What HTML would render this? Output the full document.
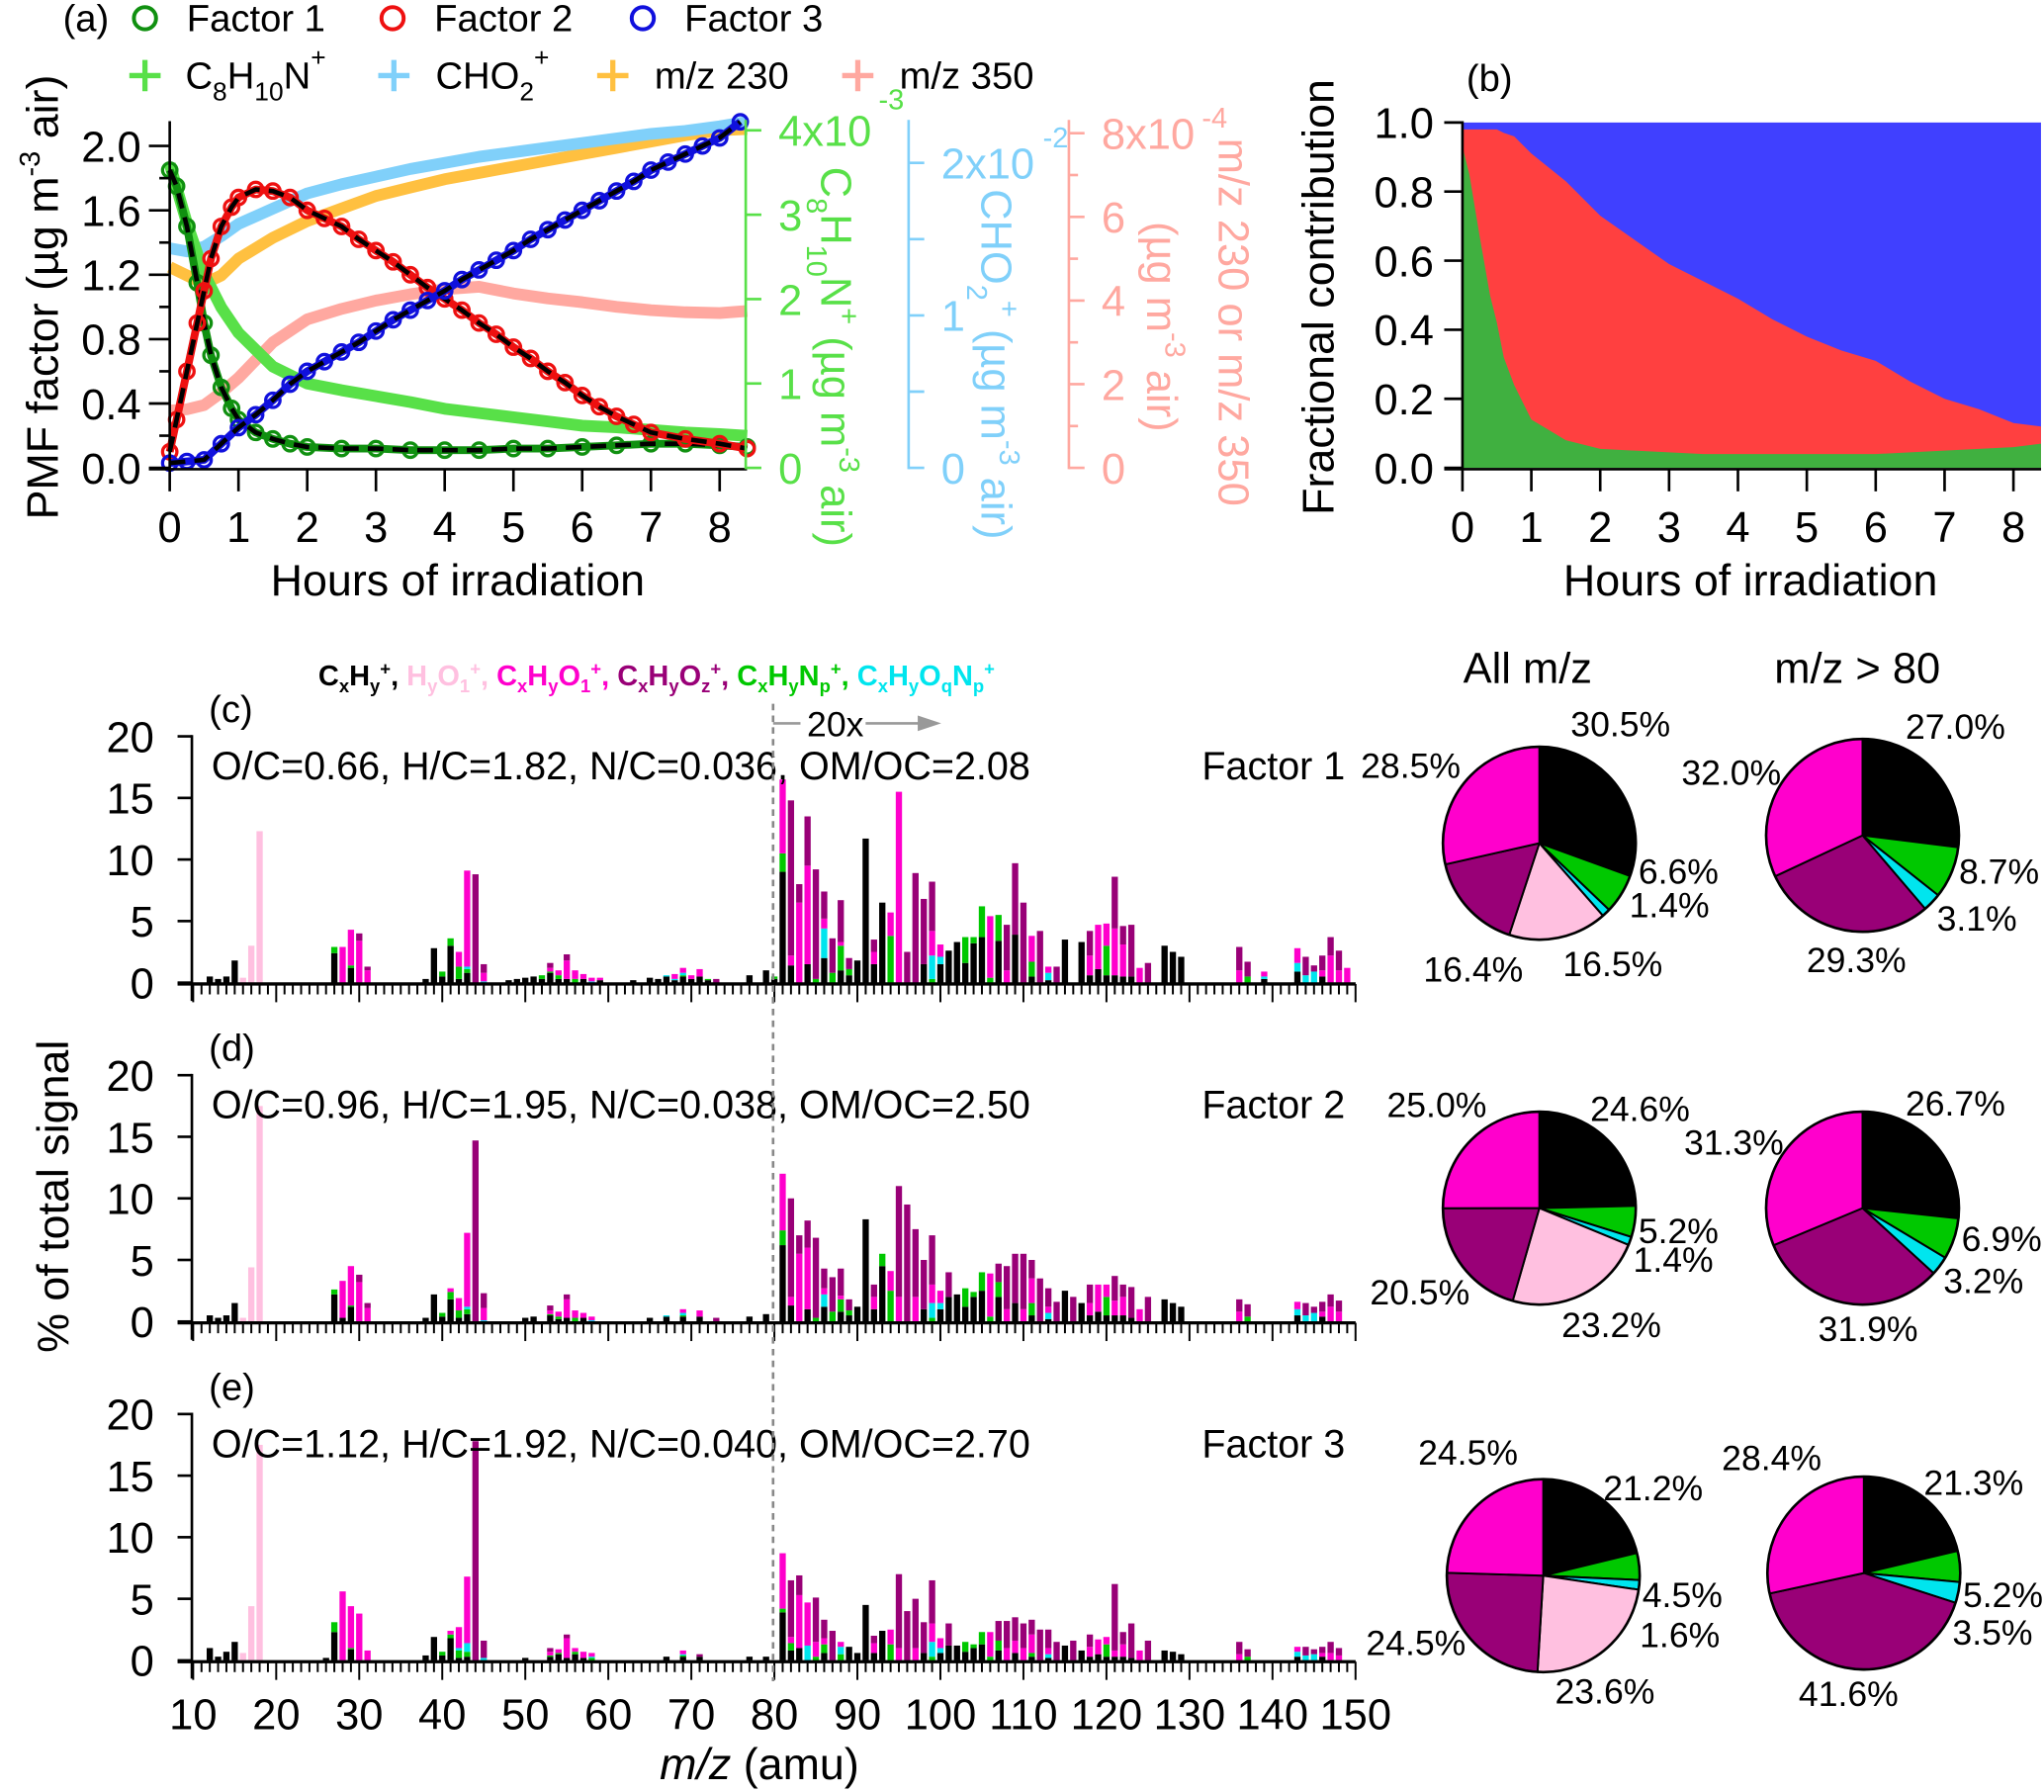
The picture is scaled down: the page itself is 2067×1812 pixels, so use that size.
<!DOCTYPE html>
<html><head><meta charset="utf-8">
<style>
html,body{margin:0;padding:0;background:#fff;}
svg{display:block;font-family:"Liberation Sans",Arial,sans-serif;}
</style></head>
<body>
<svg id="fig" width="2067" height="1812" viewBox="0 0 1568 1375" xmlns="http://www.w3.org/2000/svg"></svg>
<script>
// ---------- Panel (a) data ----------
const tF1 = [0,0.1,0.25,0.4,0.5,0.6,0.75,0.9,1,1.25,1.5,1.75,2,2.5,3,3.5,4,4.5,5,5.5,6,6.5,7,7.5,8,8.4];
const vF1 = [1.85,1.75,1.5,1.15,0.9,0.7,0.5,0.37,0.3,0.22,0.18,0.15,0.13,0.12,0.12,0.11,0.11,0.11,0.12,0.12,0.13,0.14,0.15,0.15,0.14,0.13];
const tF2 = [0,0.1,0.25,0.4,0.5,0.6,0.75,0.9,1,1.25,1.5,1.75,2,2.25,2.5,2.75,3,3.25,3.5,3.75,4,4.25,4.5,4.75,5,5.25,5.5,5.75,6,6.25,6.5,6.75,7,7.5,8,8.4];
const vF2 = [0.1,0.3,0.6,0.9,1.1,1.3,1.5,1.62,1.68,1.73,1.72,1.68,1.6,1.55,1.5,1.42,1.35,1.28,1.2,1.12,1.05,0.98,0.9,0.83,0.75,0.68,0.6,0.53,0.45,0.38,0.32,0.27,0.22,0.18,0.15,0.12];
const tF3 = [0,0.25,0.5,0.75,1,1.25,1.5,1.75,2,2.25,2.5,2.75,3,3.25,3.5,3.75,4,4.25,4.5,4.75,5,5.25,5.5,5.75,6,6.25,6.5,6.75,7,7.25,7.5,7.75,8,8.3];
const vF3 = [0.03,0.04,0.05,0.15,0.25,0.33,0.42,0.52,0.6,0.66,0.72,0.78,0.85,0.92,0.98,1.04,1.1,1.17,1.23,1.29,1.35,1.42,1.48,1.54,1.6,1.66,1.72,1.78,1.85,1.9,1.95,2.0,2.05,2.15];
const tTr = [0,0.25,0.5,0.75,1,1.5,2,2.5,3,3.5,4,4.5,5,5.5,6,6.5,7,7.5,8,8.4];
const vC8 = [3.6,2.9,2.3,1.9,1.6,1.2,1.0,0.92,0.85,0.78,0.7,0.65,0.6,0.55,0.5,0.48,0.45,0.42,0.4,0.38];
const vCHO2 = [1.44,1.42,1.45,1.52,1.6,1.7,1.8,1.86,1.91,1.96,2.0,2.04,2.07,2.1,2.13,2.16,2.19,2.21,2.24,2.27];
const vMZ230 = [4.8,4.6,4.4,4.6,5.0,5.5,5.9,6.2,6.5,6.7,6.9,7.05,7.2,7.35,7.5,7.65,7.8,7.95,8.07,8.1];
const vMZ350 = [1.37,1.4,1.5,1.8,2.15,3.0,3.55,3.8,4.0,4.15,4.27,4.33,4.17,4.05,3.96,3.85,3.77,3.72,3.7,3.75];
const aTicksX = [0,1,2,3,4,5,6,7,8];
const aTicksY = [0,0.4,0.8,1.2,1.6,2.0];
// ---------- Panel (b) data ----------
const tB = [0,0.1,0.25,0.4,0.5,0.6,0.75,1,1.25,1.5,2,2.5,3,3.5,4,4.5,5,5.5,6,6.5,7,7.5,8,8.4];
const fracGreen = [0.93,0.85,0.67,0.5,0.42,0.32,0.24,0.14,0.11,0.08,0.055,0.05,0.045,0.04,0.04,0.04,0.04,0.04,0.04,0.045,0.05,0.055,0.06,0.07];
const fracGreenRed = [0.98,0.98,0.98,0.98,0.98,0.97,0.96,0.91,0.87,0.83,0.73,0.66,0.59,0.54,0.49,0.43,0.38,0.34,0.31,0.25,0.2,0.17,0.13,0.12];
const bTicksY = [0,0.2,0.4,0.6,0.8,1.0];
// ---------- Mass spectra data: [mz, CxHy, HyO1, CxHyO1, CxHyOz, CxHyNp, CxHyOqNp] ----------
const specF1 = [
[12,0.5,0,0,0,0,0],[13,0.3,0,0,0,0,0],[14,0.5,0,0,0,0,0],[15,1.8,0,0,0,0,0],[16,0,0.4,0,0,0,0],[17,0,3.0,0,0,0,0],[18,0,12.3,0,0,0,0],
[27,2.4,0,0,0,0.5,0],[28,0,0,2.9,0,0,0],[29,1.2,0,2.9,0,0.2,0],[30,0,0,3.4,0.6,0,0],[31,0,0,1.0,0.3,0,0],
[38,0.3,0,0,0,0,0],[39,2.8,0,0,0,0,0],[40,0.5,0,0,0,0.4,0],[41,3.0,0,0,0,0.6,0],[42,0.3,0,1.2,0,1.0,0],[43,0.8,0,7.8,0,0.3,0.2],[44,0,0,0,8.8,0,0],[45,0,0,0.7,0.7,0,0.1],
[48,0.2,0,0,0,0,0],[49,0.3,0,0,0,0,0],[50,0.4,0,0,0,0,0],[51,0.5,0,0,0,0,0],[52,0.3,0,0,0,0.3,0],[53,0.8,0,0.3,0.4,0.1,0],[54,0.3,0,0.4,0,0.3,0],[55,0.3,0,1.5,0.5,0,0],[56,0,0,0.7,0,0.3,0],[57,0.3,0,0.4,0,0,0],[58,0,0,0.3,0,0,0.1],[59,0.2,0,0.2,0,0,0],
[63,0.2,0,0,0,0,0],[65,0.4,0,0,0,0,0],[66,0.3,0,0,0,0,0],[67,0.5,0,0,0,0,0.1],[68,0.2,0,0.4,0,0,0.1],[69,0.5,0,0.4,0,0.1,0.2],[70,0.3,0,0.3,0,0,0],[71,0.5,0,0.6,0,0,0],[72,0.2,0,0,0,0.1,0],[73,0,0,0,0.3,0,0],
[77,0.6,0,0,0,0,0],[79,1.0,0,0,0,0,0],[80,0.3,0,0,0,0.2,0],
[81,9.0,0,6.0,0,1.5,0],[82,1.4,0,0.8,12.6,0,0],[83,0,0,6.5,1.5,0,0],[84,1.5,0,8.0,4.0,0,0],[85,0,0,0,8.9,0.3,0],[86,2.0,0,0.8,2.2,0,2.4],[87,0,0,0,2.8,0.8,0],[88,1.0,0,0.3,3.4,2.0,0],
[89,0.6,0,0,0.9,0.5,0],[90,1.8,0,0,0,0,0],[91,11.7,0,0,0,0,0],[92,1.5,0,1.0,1.0,0,0],[93,6.5,0,0,0,0,0],[94,0,0,1.9,0,3.8,0],[95,0,0,15.5,0,0,0],[96,0,0,0,2.5,0,0],[97,0,0,0,8.9,0,0],[98,1.5,0,0,5.3,0,0],
[99,0,0,2.0,4.0,0.3,1.9],[100,1.5,0,1.0,0,0,0.6],[101,2.6,0,0,0,0,0],[102,3.3,0,0,0,0,0],[103,1.6,0,0,0,2.1,0],[104,3.2,0,0,0,0.5,0],[105,3.7,0,0,0,2.5,0],[106,0,0,5.0,0,0.4,0],
[107,3.4,0,0,0,2.1,0],[108,0,0,1.0,3.7,0,0],[109,3.9,0,0,5.8,0,0],[110,0,0,0,6.5,0,0],[111,0.5,0,2.1,0,1.2,0],[112,0,0,0,4.2,0,0],[113,0.2,0,0.5,0,0,0.6],[114,0,0,0,1.3,0,0],
[115,3.5,0,0,0,0,0],[117,3.3,0,0,0,0,0],[118,0.6,0,1.6,2.0,0,0],[119,1.1,0,3.6,0,0,0],[120,0.6,0,1.8,0,2.4,0],[121,0.6,0,3.8,4.2,0,0],[122,0.5,0,2.6,1.5,0,0],[123,0.5,0,0,4.2,0,0],[124,0,0,1.2,0,0,0],[125,0,0,0,1.6,0,0],
[127,3.0,0,0,0,0,0],[128,2.5,0,0,0,0,0],[129,2.1,0,0,0,0,0],[136,0,0,1.0,1.9,0,0],[137,0,0,0,1.2,0.5,0],[139,0.3,0,0.4,0,0,0.2],
[143,0.9,0,1.2,0,0,0.7],[144,0,0,0,1.5,0,0.6],[145,0,0,0,0.5,0,0.9],[146,0.5,0,0.5,1.2,0,0],[147,0,0,2.2,1.5,0,0],[148,0,0,1.0,1.6,0,0],[149,0,0,1.2,0,0,0]
];
const specF2 = [
[12,0.5,0,0,0,0,0],[13,0.3,0,0,0,0,0],[14,0.5,0,0,0,0,0],[15,1.5,0,0,0,0,0],[16,0,0.3,0,0,0,0],[17,0,4.4,0,0,0,0],[18,0,17.5,0,0,0,0],
[27,2.2,0,0,0,0.4,0],[28,0.3,0,3.0,0,0,0],[29,1.2,0,3.2,0,0.1,0],[30,0,0,3.2,0.6,0,0],[31,0,0,1.1,0.4,0,0],
[38,0.3,0,0,0,0,0],[39,2.2,0,0,0,0,0],[40,0.4,0,0,0,0.3,0],[41,1.8,0,0.3,0,0.6,0],[42,0.3,0,1.0,0,0.6,0],[43,0.6,0,6.0,0,0.4,0.2],[44,0,0,0,14.7,0,0],[45,0,0,1.0,1.2,0,0.1],
[50,0.3,0,0,0,0,0],[51,0.4,0,0,0,0,0],[53,0.5,0,0.3,0.4,0.1,0],[54,0.2,0,0.4,0,0.2,0],[55,0.3,0,1.5,0.4,0,0],[56,0,0,0.6,0,0.3,0],[57,0.3,0,0.4,0,0,0],[58,0,0,0.3,0,0,0.1],
[65,0.3,0,0,0,0,0],[67,0.4,0,0,0,0,0.1],[69,0.4,0,0.3,0,0.1,0.2],[71,0.4,0,0.5,0,0,0],[73,0,0,0,0.3,0,0],[77,0.4,0,0,0,0,0],[79,0.6,0,0,0,0,0],
[81,6.2,0,4.6,0,1.2,0],[82,1.3,0,0.7,8.0,0,0],[83,0,0,5.5,1.5,0,0],[84,1.0,0,5.0,2.2,0,0],[85,0,0,0,6.5,0.3,0],[86,1.2,0,0.5,1.6,0,1.0],[87,0,0,0,2.8,0.8,0],[88,0.8,0,0.3,2.2,1.0,0],
[89,0.5,0,0,0.9,0.4,0],[90,1.2,0,0,0,0,0],[91,8.3,0,0,0,0,0],[92,1.0,0,1.0,1.0,0,0],[93,4.5,0,0,0,1.0,0],[94,0,0,1.6,0,2.5,0],[95,0,0,2.0,9.0,0,0],[96,0,0,0,9.5,0,0],[97,0,0,2.0,5.5,0,0],[98,1.0,0,0,4.0,0,0],
[99,0,0,1.5,4.0,0.3,1.2],[100,1.0,0,1.0,0,0,0.5],[101,2.0,0,0,2.0,0,0],[102,2.2,0,0,0,0,0],[103,1.2,0,0,0,1.5,0],[104,2.0,0,0,0,0.4,0],[105,2.5,0,0,0,1.5,0],[106,0,0,3.5,0,0.4,0],
[107,2.0,0,0,1.5,1.2,0],[108,0,0,1.0,3.5,0,0],[109,1.5,0,0,4.0,0,0],[110,0,0,1.0,4.5,0,0],[111,0.5,0,2.0,1.5,1.0,0],[112,0,0,0,3.5,0,0],[113,0.2,0,0.5,1.5,0,0.5],[114,0,0,0,1.6,0,0],
[115,2.5,0,0,0,0,0],[116,0,0,0,2.0,0,0],[117,1.5,0,0,0,0,0],[118,0.5,0,1.0,1.5,0,0],[119,0.8,0,2.2,0,0,0],[120,0.5,0,1.0,0,1.5,0],[121,0.5,0,1.2,2.0,0,0],[122,0.5,0,1.5,1.0,0,0],[123,0.3,0,0,2.5,0,0],[124,0,0,1.0,0,0,0],[125,0,0,0,2.0,0,0],
[127,1.8,0,0,0,0,0],[128,1.5,0,0,0,0,0],[129,1.2,0,0,0,0,0],[136,0,0,0.8,1.0,0,0],[137,0,0,0,1.0,0.4,0],
[143,0.5,0,0.6,0,0,0.5],[144,0,0,0,1.0,0,0.5],[145,0,0,0,0.5,0,0.7],[146,0.4,0,0.4,0.8,0,0],[147,0,0,1.2,1.0,0,0],[148,0,0,0.8,0.9,0,0]
];
const specF3 = [
[12,1.0,0,0,0,0,0],[13,0.3,0,0,0,0,0],[14,0.7,0,0,0,0,0],[15,1.5,0,0,0,0,0],[16,0,0.6,0,0,0,0],[17,0,4.4,0,0,0,0],[18,0,17.5,0,0,0,0],
[26,0.2,0,0,0,0,0],[27,2.3,0,0,0,0.8,0],[28,0,0,5.6,0,0,0],[29,0.9,0,3.4,0,0.1,0],[30,0,0,3.8,0,0,0],[31,0,0,0.8,0,0,0],
[38,0.4,0,0,0,0,0],[39,1.9,0,0,0,0,0],[40,0.4,0,0,0,0.3,0],[41,1.8,0,0.3,0,0.3,0],[42,0.2,0,1.7,0,0.6,0.2],[43,0.3,0,5.4,0,0.4,0.7],[44,0,0,0,17.8,0,0],[45,0,0,0,1.4,0,0.2],
[50,0.2,0,0,0,0,0],[53,0.3,0,0.3,0.3,0.1,0],[54,0.5,0,0.3,0,0.1,0],[55,0.2,0,1.6,0.3,0,0],[56,0.5,0,0.3,0,0.2,0],[57,0.2,0,0.5,0,0,0],[58,0,0,0.3,0,0.2,0.1],
[67,0.3,0,0,0,0,0],[69,0.3,0,0.3,0,0.1,0.1],[71,0.3,0,0,0.2,0,0],[77,0.3,0,0,0,0,0],[79,0.3,0,0,0,0,0],
[81,3.9,0,4.5,0,0.3,0],[82,0.8,0,0.5,4.6,0.6,0],[83,1.0,0,4.3,1.6,0,0],[84,0,0,3.5,0,0,1.2],[85,0,0,1.2,3.6,0.3,0],[86,0.6,0,0.5,1.5,0.7,0],[87,0,0,0,2.4,0,0],[88,0,0,0.4,0,0.5,0.6],
[89,1.1,0,0,0,0,0],[90,0.6,0,0,0,0,0],[91,4.5,0,0,0,0,0],[92,0.6,0,0.8,0.6,0,0],[93,2.4,0,0,0,0,0],[94,0,0,1.2,0,1.3,0],[95,0,0,1.0,6.0,0,0],[96,0,0,0,4.0,0,0],[97,0,0,1.0,4.0,0,0],[98,0.6,0,0,2.5,0,0],
[99,0,0,1.5,3.5,0.3,1.2],[100,0.6,0,0.8,0,0,0.4],[101,1.2,0,0,1.8,0,0],[102,1.2,0,0,0,0,0],[103,0.7,0,0,0,0.8,0],[104,1.0,0,0,0,0.3,0],[105,1.3,0,0,0,1.0,0],[106,0,0,2.0,0,0.3,0],
[107,0.8,0,0,1.6,0.8,0],[108,0,0,1.0,2.2,0,0],[109,0.6,0,1.0,1.9,0,0],[110,0,0,1.0,2.0,0,0],[111,0.3,0,1.5,1.2,0.3,0],[112,0,0,0,2.5,0,0],[113,0.2,0,0.5,1.5,0,0.3],[114,0,0,0,1.5,0,0],
[115,1.2,0,0,0,0,0],[116,0,0,0,1.6,0,0],[117,0.8,0,0,0,0,0],[118,0.3,0,0.8,1.0,0,0],[119,0.5,0,1.2,0,0,0],[120,0.3,0,0.6,0,1.0,0],[121,0.3,0,0.5,5.4,0,0],[122,0.3,0,1.0,1.0,0,0],[123,0.2,0,0,2.8,0,0],[124,0,0,0.8,0,0,0],[125,0,0,0,1.6,0,0],
[127,0.8,0,0,0,0,0],[128,0.7,0,0,0,0,0],[129,0.5,0,0,0,0,0],[136,0,0,0.5,1.0,0,0],[137,0,0,0,0.6,0.3,0],
[143,0.3,0,0.4,0,0,0.4],[144,0,0,0,0.7,0,0.4],[145,0,0,0,0.4,0,0.5],[146,0.3,0,0.3,0.5,0,0],[147,0,0,0.6,0.9,0,0],[148,0,0,0.4,0.6,0,0]
];
const specTicksX = [10,20,30,40,50,60,70,80,90,100,110,120,130,140,150];
const specTicksY = [0,5,10,15,20];
// ---------- Pie data: [CxHy, CxHyNp, CxHyOqNp, HyO1, CxHyOz, CxHyO1] ----------
const pieF1All = [30.5,6.6,1.4,16.5,16.4,28.5];
const pieF1Hi = [27.0,8.7,3.1,0,29.3,32.0];
const pieF2All = [24.6,5.2,1.4,23.2,20.5,25.0];
const pieF2Hi = [26.7,6.9,3.2,0,31.9,31.3];
const pieF3All = [21.2,4.5,1.6,23.6,24.5,24.5];
const pieF3Hi = [21.3,5.2,3.5,0,41.6,28.4];

const NS = "http://www.w3.org/2000/svg";
const svg = document.getElementById('fig');
function mk(tag, attrs, parent){ const e=document.createElementNS(NS,tag); for(const k in attrs) e.setAttribute(k,attrs[k]); (parent||svg).appendChild(e); return e; }
function txt(x,y,s,size,opts,parent){ const e=mk('text',Object.assign({x:x,y:y,'font-size':size,fill:'#000'},opts||{}),parent); e.textContent=s; return e; }

const SPEC_COL = ['#000000','#ffc0e0','#ff00cc','#990077','#00c800','#00e5ee'];
const SPEC_ORDER = [0,4,5,1,2,3];
const PIE_COL = ['#000000','#00c800','#00e5ee','#ffc0e0','#990077','#ff00cc'];
const TK = 33, TT = 34;

// ================= Panel (a) =================
const xa = h => 130 + h*52.75;
const ya = v => 359 - v*123.5;
const yg = v => 359 - v*64.75;
const yb = v => 359 - v*117;
const yp = v => 359 - v*32.1;
const gA = mk('g',{});  
function polyline(ts, vs, fx, fy, color, w, dash, parent){
  const pts = ts.map((t,i)=>fx(t)+','+fy(vs[i])).join(' ');
  const p = mk('polyline',{points:pts,fill:'none',stroke:color,'stroke-width':w,'stroke-linejoin':'round'},parent);
  if(dash) p.setAttribute('stroke-dasharray',dash);
  return p;
}
let l;
l = polyline(tTr,vMZ350,xa,yp,'#ffa8a0',9,null,gA);
 
l = polyline(tTr,vMZ230,xa,yp,'#ffc040',9,null,gA);
 
l = polyline(tTr,vCHO2,xa,yb,'#80d0fa',9,null,gA);
 
l = polyline(tTr,vC8,xa,yg,'#58e048',9,null,gA);
 
[[tF1,vF1,'#109010','factor1'],[tF2,vF2,'#ee1010','factor2'],[tF3,vF3,'#1010dd','factor3']].forEach(s=>{
  const ln = polyline(s[0],s[1],xa,ya,s[2],6,null,gA);
   
  s[0].forEach((t,i)=>{ const c=mk('circle',{cx:xa(t),cy:ya(s[1][i]),r:5.5,fill:'none',stroke:s[2],'stroke-width':2.5},gA);
      });
  const fit = polyline(s[0],s[1],xa,ya,'#000',3.5,'12,7',gA);
   
});
mk('line',{x1:130,y1:93,x2:130,y2:360,stroke:'#000','stroke-width':2},gA);
mk('line',{x1:114,y1:360,x2:573,y2:360,stroke:'#000','stroke-width':2},gA);
aTicksY.forEach(v=>{ mk('line',{x1:114,y1:ya(v),x2:130,y2:ya(v),stroke:'#000','stroke-width':2},gA);
  const t=txt(108,ya(v)+12,v.toFixed(1),TK,{'text-anchor':'end'},gA);   });
for(let v=0.2; v<2.1; v+=0.4) mk('line',{x1:122,y1:ya(v),x2:130,y2:ya(v),stroke:'#000','stroke-width':2},gA);
aTicksX.forEach(h=>{ mk('line',{x1:xa(h),y1:360,x2:xa(h),y2:377,stroke:'#000','stroke-width':2},gA);
  const t=txt(xa(h),416,String(h),TK,{'text-anchor':'middle'},gA);   });
let t = txt(351,457,'Hours of irradiation',TT,{'text-anchor':'middle'},gA);
 
t = mk('text',{transform:'translate(44,228) rotate(-90)','font-size':TT,'text-anchor':'middle'},gA);
t.innerHTML='PMF factor (µg m<tspan dy="-14" font-size="22">-3</tspan><tspan dy="14"> air)</tspan>';
 
// green axis
mk('line',{x1:572,y1:92,x2:572,y2:360,stroke:'#58e048','stroke-width':2},gA);
[0,1,2,3,4].forEach(v=>{ mk('line',{x1:572,y1:yg(v),x2:584,y2:yg(v),stroke:'#58e048','stroke-width':2},gA);
  const tt=txt(597,yg(v)+12,v===4?'4x10':String(v),TK,{fill:'#58e048'},gA);   });
txt(674,84,'-3',22,{fill:'#58e048'},gA);
t = mk('text',{transform:'translate(630,128) rotate(90)','font-size':TK,fill:'#58e048'},gA);
t.innerHTML='C<tspan dy="11" font-size="22">8</tspan><tspan dy="-11">H</tspan><tspan dy="11" font-size="22">10</tspan><tspan dy="-11">N</tspan><tspan dy="-14" font-size="22">+</tspan><tspan dy="14">  (µg m</tspan><tspan dy="-14" font-size="22">-3</tspan><tspan dy="14"> air)</tspan>';
 
// blue axis
mk('line',{x1:697,y1:92,x2:697,y2:360,stroke:'#80d0fa','stroke-width':2},gA);
[0,0.5,1,1.5,2].forEach(v=>{ mk('line',{x1:697,y1:yb(v),x2:709,y2:yb(v),stroke:'#80d0fa','stroke-width':2},gA); });
[[0,'0'],[1,'1'],[2,'2x10']].forEach(p=>{ const tt=txt(722,yb(p[0])+12,p[1],TK,{fill:'#80d0fa'},gA);   });
txt(800,113,'-2',22,{fill:'#80d0fa'},gA);
t = mk('text',{transform:'translate(753,145) rotate(90)','font-size':TK,fill:'#80d0fa'},gA);
t.innerHTML='CHO<tspan dy="11" font-size="22">2</tspan><tspan dy="-25" font-size="22">+</tspan><tspan dy="14">  (µg m</tspan><tspan dy="-14" font-size="22">-3</tspan><tspan dy="14"> air)</tspan>';
 
// pink axis
mk('line',{x1:820,y1:92,x2:820,y2:360,stroke:'#ffa8a0','stroke-width':2},gA);
[0,2,4,6,8].forEach(v=>{ mk('line',{x1:820,y1:yp(v),x2:832,y2:yp(v),stroke:'#ffa8a0','stroke-width':2},gA);
  const tt=txt(845,yp(v)+12,v===8?'8x10':String(v),TK,{fill:'#ffa8a0'},gA);   });
for(let v=1; v<8; v+=2) mk('line',{x1:820,y1:yp(v),x2:827,y2:yp(v),stroke:'#ffa8a0','stroke-width':2},gA);
txt(922,98,'-4',22,{fill:'#ffa8a0'},gA);
t = mk('text',{transform:'translate(880,170) rotate(90)','font-size':TK,fill:'#ffa8a0'},gA);
t.innerHTML='(µg m<tspan dy="-14" font-size="22">-3</tspan><tspan dy="14"> air)</tspan>';
 
t = txt(0,0,'m/z 230 or m/z 350',TK,{transform:'translate(935,106) rotate(90)',fill:'#ffa8a0'},gA);
 
// legend
t = txt(48,24,'(a)',29,{},gA);  
[['Factor 1','#109010',111],['Factor 2','#ee1010',301],['Factor 3','#1010dd',493]].forEach(e=>{
  const c=mk('circle',{cx:e[2],cy:14,r:8.5,fill:'none',stroke:e[1],'stroke-width':3},gA);  
  const tt=txt(e[2]+32,24,e[0],29,{},gA);   });
[['#58e048',111],['#80d0fa',302],['#ffc040',470],['#ffa8a0',658]].forEach(e=>{
  mk('line',{x1:e[1]-12,y1:58,x2:e[1]+12,y2:58,stroke:e[0],'stroke-width':4},gA);
  const m=mk('line',{x1:e[1],y1:46,x2:e[1],y2:70,stroke:e[0],'stroke-width':4},gA);   });
t = mk('text',{x:142,y:68,'font-size':29},gA); t.innerHTML='C<tspan dy="9" font-size="20">8</tspan><tspan dy="-9">H</tspan><tspan dy="9" font-size="20">10</tspan><tspan dy="-9">N</tspan><tspan dy="-17" font-size="20">+</tspan>';
 
t = mk('text',{x:334,y:68,'font-size':29},gA); t.innerHTML='CHO<tspan dy="9" font-size="20">2</tspan><tspan dy="-26" font-size="20">+</tspan>';
 
t = txt(502,68,'m/z 230',29,{},gA);  
t = txt(690,68,'m/z 350',29,{},gA);  

// ================= Panel (b) =================
const xb = h => 1122 + h*52.85;
const yB = v => 359 - v*265;
const gB = mk('g',{});  
let r = mk('rect',{x:xb(0),y:yB(1),width:xb(8.4)-xb(0),height:yB(0)-yB(1),fill:'#4040ff'},gB);
 
function areaPath(ts, vs){ let d='M'+xb(ts[0])+','+yB(0); ts.forEach((tt,i)=>{ d+=' L'+xb(tt)+','+yB(vs[i]); }); d+=' L'+xb(ts[ts.length-1])+','+yB(0)+' Z'; return d; }
r = mk('path',{d:areaPath(tB,fracGreenRed),fill:'#ff4040'},gB);
 
r = mk('path',{d:areaPath(tB,fracGreen),fill:'#40b040'},gB);
 
mk('line',{x1:1122,y1:93,x2:1122,y2:360,stroke:'#000','stroke-width':2},gB);
mk('line',{x1:1108,y1:360,x2:1566,y2:360,stroke:'#000','stroke-width':2},gB);
bTicksY.forEach(v=>{ mk('line',{x1:1108,y1:yB(v),x2:1122,y2:yB(v),stroke:'#000','stroke-width':2},gB);
  const tt=txt(1100,yB(v)+12,v.toFixed(1),TK,{'text-anchor':'end'},gB);   });
aTicksX.forEach(h=>{ mk('line',{x1:xb(h),y1:360,x2:xb(h),y2:377,stroke:'#000','stroke-width':2},gB);
  const tt=txt(xb(h),416,String(h),TK,{'text-anchor':'middle'},gB);   });
t = txt(1343,457,'Hours of irradiation',TT,{'text-anchor':'middle'},gB);  
t = txt(0,0,'Fractional contribution',TT,{transform:'translate(1023,228) rotate(-90)','text-anchor':'middle'},gB);  
t = txt(1125,70,'(b)',29,{},gB);  

// ================= Mass spectra =================
const xm = mz => 148 + (mz-10)*6.371;
function drawSpec(data, base, label, ratios, factor, showX, key){
  const g = mk('g',{});  
  const ys = v => base - v*9.45;
  data.forEach(row=>{
    let acc=0;
    SPEC_ORDER.forEach(ci=>{ const v=row[ci+1]; if(v>0){
      const b=mk('rect',{x:xm(row[0])-2.4,y:ys(acc+v),width:4.8,height:ys(acc)-ys(acc+v),fill:SPEC_COL[ci]},g);
       
      acc+=v; } });
  });
  mk('line',{x1:136,y1:base+1,x2:1040,y2:base+1,stroke:'#000','stroke-width':2.5},g);
  mk('line',{x1:147,y1:base-190,x2:147,y2:base+14,stroke:'#000','stroke-width':2},g);
  specTicksY.forEach(v=>{ mk('line',{x1:136,y1:ys(v),x2:147,y2:ys(v),stroke:'#000','stroke-width':2},g);
    const tt=txt(118,ys(v)+12,String(v),TK,{'text-anchor':'end'},g);   });
  for(let m=10;m<=150;m++){ const len = m%10===0?14:8;
    mk('line',{x1:xm(m),y1:base+1,x2:xm(m),y2:base+1+len,stroke:'#000','stroke-width':1.5},g); }
  if(showX) specTicksX.forEach(m=>{ const tt=txt(xm(m),1327,String(m),TK,{'text-anchor':'middle'},g);   });
  let tt=txt(160,base-200,label,29,{},g);  
  tt=txt(162,base-156,ratios,30,{},g);  
  tt=txt(922,base-156,factor,30,{},g);  
}
drawSpec(specF1,754,'(c)','O/C=0.66, H/C=1.82, N/C=0.036, OM/OC=2.08','Factor 1',false,'c');
drawSpec(specF2,1014,'(d)','O/C=0.96, H/C=1.95, N/C=0.038, OM/OC=2.50','Factor 2',false,'d');
drawSpec(specF3,1274,'(e)','O/C=1.12, H/C=1.92, N/C=0.040, OM/OC=2.70','Factor 3',true,'e');
let dl = mk('line',{x1:593,y1:540,x2:593,y2:1290,stroke:'#888','stroke-width':2,'stroke-dasharray':'5,4'});
 
mk('line',{x1:593,y1:555,x2:710,y2:555,stroke:'#999','stroke-width':2});
let ar = mk('path',{d:'M722,555 L704,549 L704,561 Z',fill:'#999'});
 
mk('rect',{x:614,y:540,width:50,height:28,fill:'#fff'});
t = txt(619,565,'20x',27,{});  
t = txt(0,0,'% of total signal',TT,{transform:'translate(52,918) rotate(-90)','text-anchor':'middle'});  
t = mk('text',{x:506,y:1365,'font-size':TT}); t.innerHTML='<tspan font-style="italic">m/z</tspan>  (amu)';
 
// ion legend
t = mk('text',{x:244,y:526,'font-size':22,'font-weight':'bold'});
t.innerHTML='<tspan fill="#000">C<tspan font-size="14" dy="5">x</tspan><tspan dy="-5">H</tspan><tspan font-size="14" dy="5">y</tspan><tspan font-size="14" dy="-13">+</tspan><tspan dy="8">, </tspan></tspan>'+
 '<tspan fill="#ffc0e0">H<tspan font-size="14" dy="5">y</tspan><tspan dy="-5">O</tspan><tspan font-size="14" dy="5">1</tspan><tspan font-size="14" dy="-13">+</tspan><tspan dy="8">, </tspan></tspan>'+
 '<tspan fill="#ff00cc">C<tspan font-size="14" dy="5">x</tspan><tspan dy="-5">H</tspan><tspan font-size="14" dy="5">y</tspan><tspan dy="-5">O</tspan><tspan font-size="14" dy="5">1</tspan><tspan font-size="14" dy="-13">+</tspan><tspan dy="8">, </tspan></tspan>'+
 '<tspan fill="#990077">C<tspan font-size="14" dy="5">x</tspan><tspan dy="-5">H</tspan><tspan font-size="14" dy="5">y</tspan><tspan dy="-5">O</tspan><tspan font-size="14" dy="5">z</tspan><tspan font-size="14" dy="-13">+</tspan><tspan dy="8">, </tspan></tspan>'+
 '<tspan fill="#00c800">C<tspan font-size="14" dy="5">x</tspan><tspan dy="-5">H</tspan><tspan font-size="14" dy="5">y</tspan><tspan dy="-5">N</tspan><tspan font-size="14" dy="5">p</tspan><tspan font-size="14" dy="-13">+</tspan><tspan dy="8">, </tspan></tspan>'+
 '<tspan fill="#00e5ee">C<tspan font-size="14" dy="5">x</tspan><tspan dy="-5">H</tspan><tspan font-size="14" dy="5">y</tspan><tspan dy="-5">O</tspan><tspan font-size="14" dy="5">q</tspan><tspan dy="-5">N</tspan><tspan font-size="14" dy="5">p</tspan><tspan font-size="14" dy="-13">+</tspan></tspan>';
 

// ================= Pies =================
function drawPie(vals, cx, cy, rad, name){
  const g = mk('g',{});  
  const tot = vals.reduce((a,b)=>a+b,0);
  let a0 = -Math.PI/2;
  vals.forEach((v,i)=>{ if(v<=0) return;
    const a1 = a0 + v/tot*2*Math.PI;
    const large = (a1-a0)>Math.PI?1:0;
    const d = 'M'+cx+','+cy+' L'+(cx+rad*Math.cos(a0))+','+(cy+rad*Math.sin(a0))+' A'+rad+','+rad+' 0 '+large+' 1 '+(cx+rad*Math.cos(a1))+','+(cy+rad*Math.sin(a1))+' Z';
    const s = mk('path',{d:d,fill:PIE_COL[i],stroke:'#000','stroke-width':1.5},g);
     
    a0 = a1; });
  mk('circle',{cx:cx,cy:cy,r:rad,fill:'none',stroke:'#000','stroke-width':2},g);
}
drawPie(pieF1All,1181,647,74,'pie-f1-all');
drawPie(pieF1Hi,1429,641,74,'pie-f1-hi');
drawPie(pieF2All,1181,927,74,'pie-f2-all');
drawPie(pieF2Hi,1429,927,74,'pie-f2-hi');
drawPie(pieF3All,1184,1209,74,'pie-f3-all');
drawPie(pieF3Hi,1430,1207,74,'pie-f3-hi');
t = txt(1172,524,'All m/z',TK,{'text-anchor':'middle'});  
t = txt(1425,524,'m/z > 80',TK,{'text-anchor':'middle'});  
const pieLabels = [
 [1205,565,'30.5%'],[1044,597,'28.5%'],[1257,678,'6.6%'],[1250,704,'1.4%'],[1092,753,'16.4%'],[1199,749,'16.5%'],
 [1462,567,'27.0%'],[1290,602,'32.0%'],[1503,678,'8.7%'],[1486,714,'3.1%'],[1386,746,'29.3%'],
 [1064,857,'25.0%'],[1220,860,'24.6%'],[1257,954,'5.2%'],[1253,976,'1.4%'],[1051,1001,'20.5%'],[1198,1026,'23.2%'],
 [1462,856,'26.7%'],[1292,886,'31.3%'],[1505,960,'6.9%'],[1491,992,'3.2%'],[1395,1029,'31.9%'],
 [1088,1124,'24.5%'],[1230,1151,'21.2%'],[1260,1233,'4.5%'],[1258,1264,'1.6%'],[1048,1270,'24.5%'],[1193,1307,'23.6%'],
 [1321,1128,'28.4%'],[1476,1147,'21.3%'],[1506,1233,'5.2%'],[1498,1262,'3.5%'],[1380,1309,'41.6%']
];
pieLabels.forEach(p=>{ const tt=txt(p[0],p[1],p[2],27,{});   });
</script>
</body></html>
